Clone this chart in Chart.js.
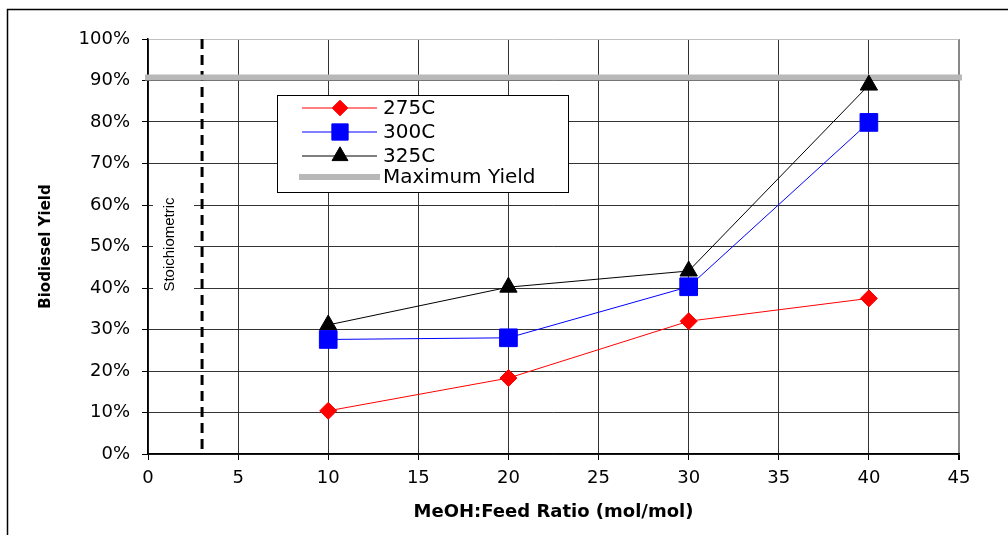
<!DOCTYPE html>
<html>
<head>
<meta charset="utf-8">
<script src="https://cdn.jsdelivr.net/npm/chart.js@4.4.1/dist/chart.umd.min.js"></script>
<style>
  html, body { margin: 0; padding: 0; background: #fff; }
  canvas { display: block; }
</style>
</head>
<body>
<canvas id="chart" width="1008" height="535"></canvas>
<script>
'use strict';

// Data
const ratios = [10, 20, 30, 40];
const yield275 = [10.4, 18.3, 32.0, 37.5];
const yield300 = [27.6, 28.0, 40.3, 79.9];
const yield325 = [31.1, 40.2, 44.1, 88.9];
const maxYield = 90.7;
const stoichRatio = 3;
const xTicks = [0, 5, 10, 15, 20, 25, 30, 35, 40, 45];
const yTicks = [0, 10, 20, 30, 40, 50, 60, 70, 80, 90, 100];
const seriesNames = ['275C', '300C', '325C', 'Maximum Yield'];

const toPoints = (xs, ys) => xs.map((x, i) => ({ x: x, y: ys[i] }));

/* Cadre extérieur */
const framePlugin = {
    id: 'frame',
    beforeDraw(chart) {
        const ctx = chart.ctx;
        ctx.save();
        ctx.strokeStyle = '#000';
        ctx.lineWidth = 1.5;
        ctx.beginPath();
        ctx.moveTo(7.5, 535);
        ctx.lineTo(7.5, 9.5);
        ctx.lineTo(1008, 9.5);
        ctx.stroke();
        ctx.restore();
    }
};

/* Texte "Stoichiometric" sur fond blanc */
const stoichLabel = {
    id: 'stoichLabel',
    beforeDatasetsDraw(chart) {
        const ctx = chart.ctx;
        const yScale = chart.scales.y;
        const cy = yScale.getPixelForValue(50) - 2;
        ctx.save();
        ctx.fillStyle = '#fff';
        ctx.fillRect(153, cy - 52, 41, 104);
        ctx.translate(170, cy);
        ctx.rotate(-Math.PI / 2);
        ctx.fillStyle = '#000';
        ctx.font = '15px "Liberation Sans", Arial, sans-serif';
        ctx.textAlign = 'center';
        ctx.textBaseline = 'middle';
        ctx.fillText('Stoichiometric', 0, 0);
        ctx.restore();
    }
};

/* Légende encadrée dans la zone du graphique */
const boxLegend = {
    id: 'boxLegend',
    afterDraw(chart) {
        const ctx = chart.ctx;
        const left = 277, top = 95, w = 291, h = 97;
        const rows = [108, 132, 156, 177];
        ctx.save();
        ctx.fillStyle = '#fff';
        ctx.fillRect(left, top, w, h);
        ctx.strokeStyle = '#000';
        ctx.lineWidth = 1;
        ctx.strokeRect(left + 0.5, top + 0.5, w, h);

        chart.data.datasets.slice(0, 4).forEach((ds, i) => {
            const y = rows[i];
            ctx.strokeStyle = ds.borderColor;
            ctx.lineWidth = ds.borderWidth;
            ctx.beginPath();
            if (i === 3) {
                ctx.moveTo(299, y);
                ctx.lineTo(380, y);
            } else {
                ctx.moveTo(302, y);
                ctx.lineTo(377, y);
            }
            ctx.stroke();
            if (i < 3) {
                ctx.fillStyle = ds.pointBackgroundColor;
                ctx.strokeStyle = ds.pointBorderColor;
                Chart.helpers.drawPoint(ctx, {
                    pointStyle: ds.pointStyle,
                    radius: ds.pointRadius * 0.92,
                    rotation: 0,
                    borderWidth: 1
                }, 340, y);
            }
            ctx.fillStyle = '#000';
            ctx.font = '20px "DejaVu Sans", sans-serif';
            ctx.textAlign = 'left';
            ctx.textBaseline = 'middle';
            ctx.fillText(seriesNames[i], 383, y + 1);
        });
        ctx.restore();
    }
};

const gridColor = (c) => {
    if (c.tick && c.tick.value === 100) return '#c0c0c0';
    if (c.tick && c.tick.value === 45) return '#888';
    return '#333';
};

new Chart(document.getElementById('chart'), {
    type: 'scatter',
    data: {
        datasets: [
            {
                label: seriesNames[0],
                data: toPoints(ratios, yield275),
                showLine: true,
                borderColor: '#ff0000',
                borderWidth: 1,
                pointStyle: 'rectRot',
                pointRadius: 8.5,
                pointBackgroundColor: '#ff0000',
                pointBorderColor: '#ff0000'
            },
            {
                label: seriesNames[1],
                data: toPoints(ratios, yield300),
                showLine: true,
                borderColor: '#0000ff',
                borderWidth: 1,
                pointStyle: 'rect',
                pointRadius: 12.5,
                pointBackgroundColor: '#0000ff',
                pointBorderColor: '#0000ff'
            },
            {
                label: seriesNames[2],
                data: toPoints(ratios, yield325),
                showLine: true,
                borderColor: '#000000',
                borderWidth: 1,
                pointStyle: 'triangle',
                pointRadius: 10,
                pointBackgroundColor: '#000000',
                pointBorderColor: '#000000'
            },
            {
                label: seriesNames[3],
                data: [{ x: xTicks[0], y: maxYield }, { x: xTicks[xTicks.length - 1], y: maxYield }],
                showLine: true,
                borderColor: '#b8b8b8',
                borderWidth: 6,
                borderCapStyle: 'square',
                pointRadius: 0,
                clip: false
            },
            {
                label: 'Stoichiometric',
                data: [{ x: stoichRatio, y: yTicks[yTicks.length - 1] }, { x: stoichRatio, y: yTicks[0] }],
                showLine: true,
                borderColor: '#000000',
                borderWidth: 3,
                borderDash: [10, 6],
                pointRadius: 0
            }
        ]
    },
    options: {
        responsive: false,
        devicePixelRatio: 1,
        animation: false,
        layout: { padding: { left: 0, right: 49, top: 39, bottom: 0 } },
        plugins: {
            legend: { display: false },
            tooltip: { enabled: false }
        },
        scales: {
            x: {
                type: 'linear',
                min: xTicks[0],
                max: xTicks[xTicks.length - 1],
                afterBuildTicks: (scale) => { scale.ticks = xTicks.map(v => ({ value: v })); },
                afterFit: (scale) => { scale.height = 81; },
                ticks: {
                    color: '#000',
                    padding: 8,
                    font: { family: '"DejaVu Sans", sans-serif', size: 18 }
                },
                grid: {
                    color: gridColor,
                    lineWidth: (c) => (c.tick && c.tick.value === 45 ? 2 : 1),
                    tickColor: '#000',
                    tickLength: 6
                },
                border: { color: '#000', width: 1.5 },
                title: {
                    display: true,
                    text: 'MeOH:Feed Ratio (mol/mol)',
                    color: '#000',
                    font: { family: '"DejaVu Sans", sans-serif', size: 18, weight: 'bold' },
                    padding: { top: 0, bottom: 12 }
                }
            },
            y: {
                min: yTicks[0],
                max: yTicks[yTicks.length - 1],
                afterBuildTicks: (scale) => { scale.ticks = yTicks.map(v => ({ value: v })); },
                afterFit: (scale) => { scale.width = 148; },
                ticks: {
                    color: '#000',
                    padding: 12,
                    font: { family: '"DejaVu Sans", sans-serif', size: 18 },
                    callback: (v) => v + '%'
                },
                grid: {
                    color: gridColor,
                    tickColor: '#000',
                    tickLength: 6
                },
                border: { color: '#000', width: 1.5 },
                title: {
                    display: true,
                    text: 'Biodiesel Yield',
                    color: '#000',
                    font: { family: '"DejaVu Sans", sans-serif', size: 15, weight: 'bold' },
                    padding: { top: 37, bottom: 0 }
                }
            }
        }
    },
    plugins: [framePlugin, stoichLabel, boxLegend]
});
</script>
</body>
</html>
